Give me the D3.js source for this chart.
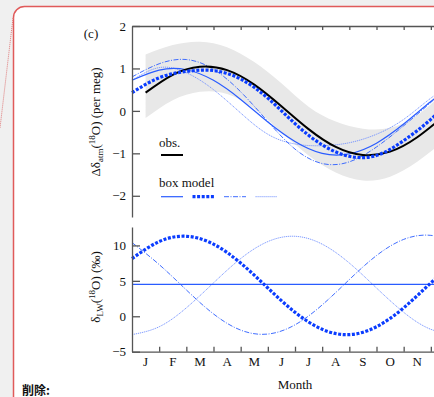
<!DOCTYPE html>
<html><head><meta charset="utf-8">
<script src="https://cdn.jsdelivr.net/npm/d3@7"></script>
<style>html,body{margin:0;padding:0;background:#f0f0f0;overflow:hidden}svg{display:block}</style>
</head><body><svg id="c" width="434" height="397"></svg>
<script>
// ---------- data ----------
const monthLabels = ["J","F","M","A","M","J","J","A","S","O","N"];
const modelMonths = [0,1,2,3,4,5,6,7,8,9,10,11,12];
const obsMonths = [0.5,1.5,2.5,3.5,4.5,5.5,6.5,7.5,8.5,9.5,10.5,11.5];
const obs       = [0.43,0.85,1.04,0.96,0.62,0.11,-0.43,-0.85,-1.04,-0.96,-0.62,-0.11];
const obsUpper  = [1.33,1.55,1.63,1.50,1.15,0.65,0.10,-0.25,-0.42,-0.40,-0.10,0.45];
const obsLower  = [-0.17,0.25,0.45,0.40,0.05,-0.50,-1.05,-1.45,-1.64,-1.55,-1.20,-0.70];
// top panel box model runs
const atmSolid   = [0.72,0.96,0.97,0.72,0.27,-0.26,-0.72,-1.00,-1.01,-0.76,-0.31,0.22,0.72];
const atmThick   = [0.43,0.78,0.93,0.95,0.75,0.30,-0.30,-0.80,-1.07,-1.05,-0.70,-0.20,0.43];
const atmDashDot = [0.80,1.11,1.21,0.98,0.45,-0.25,-0.90,-1.24,-1.20,-0.85,-0.35,0.20,0.80];
const atmThin    = [0.72,1.02,0.90,0.50,-0.05,-0.55,-0.78,-0.82,-0.75,-0.55,-0.20,0.30,0.72];
// bottom panel leaf water
const lwSolid   = [4.5,4.5,4.5,4.5,4.5,4.5,4.5,4.5,4.5,4.5,4.5,4.5,4.5];
const lwThick   = [8.14,10.54,11.29,10.18,7.51,3.99,0.56,-1.84,-2.59,-1.48,1.19,4.71,8.14];
const lwDashDot = [10.4,7.30,3.72,0.33,-1.95,-2.51,-1.21,1.60,5.18,8.57,10.85,11.42,10.4];
const lwThin    = [-2.59,-1.48,1.19,4.71,8.14,10.54,11.29,10.18,7.51,3.99,0.56,-1.84,-2.59];
const topTicks = [-2,-1,0,1,2];
const botTicks = [-5,0,5,10];

// ---------- drawing ----------
const svg = d3.select("#c");
const serif = "'Liberation Serif','Times New Roman',serif";
const blue = "#2a5cff", blueDark = "#0a3cff", blueLight = "#6f8fff";

svg.append("rect").attr("x",13.5).attr("y",6.5).attr("width",460).attr("height",410)
  .attr("rx",11).attr("fill","#fff").attr("stroke","#e05a5a").attr("stroke-width",1.5);
svg.append("line").attr("x1",13).attr("y1",18).attr("x2",0).attr("y2",128)
  .attr("stroke","#e07a7a").attr("stroke-width",1).attr("stroke-dasharray","1,1");

const x = d3.scaleLinear().domain([0,12]).range([132,458]);
const yT = d3.scaleLinear().domain([-2.5,2]).range([217,26]);
const yB = d3.scaleLinear().domain([-5,12.6]).range([351.7,227]);

const g = svg.append("g");
g.append("path").datum(obsMonths.map((m,i)=>[m,obsLower[i],obsUpper[i]]))
  .attr("fill","#e8e8e8")
  .attr("d", d3.area().x(d=>x(d[0])).y0(d=>yT(d[1])).y1(d=>yT(d[2])).curve(d3.curveNatural));

const styles = {
  solid:   {stroke:blue, w:1.2, dash:null},
  thick:   {stroke:blueDark, w:3.2, dash:"3,1.6"},
  dashdot: {stroke:blue, w:0.9, dash:"5,1.5,1,1.5"},
  thin:    {stroke:blueLight, w:0.9, dash:"1.2,0.8"}
};
function drawLine(xs, ys, yScale, st, color, width){
  g.append("path").datum(xs.map((m,i)=>[m,ys[i]]))
   .attr("fill","none").attr("stroke",color||st.stroke).attr("stroke-width",width||st.w)
   .attr("stroke-dasharray",st.dash)
   .attr("d", d3.line().x(d=>x(d[0])).y(d=>yScale(d[1])).curve(d3.curveNatural));
}
drawLine(modelMonths, atmThin, yT, styles.thin);
drawLine(modelMonths, atmDashDot, yT, styles.dashdot);
drawLine(modelMonths, atmSolid, yT, styles.solid);
drawLine(obsMonths, obs, yT, {dash:null}, "#000", 2);
drawLine(modelMonths, atmThick, yT, styles.thick);

drawLine(modelMonths, lwThin, yB, styles.thin);
drawLine(modelMonths, lwDashDot, yB, styles.dashdot);
drawLine(modelMonths, lwSolid, yB, styles.solid);
drawLine(modelMonths, lwThick, yB, styles.thick);

const axisColor = "#555";
function styleAxis(sel){
  sel.selectAll("path,line").attr("stroke",axisColor).attr("stroke-width",1.3);
  sel.selectAll("text").attr("font-family",serif).attr("font-size",13).attr("fill","#111");
}
const ayT = svg.append("g").attr("transform","translate(132,0)")
  .call(d3.axisRight(yT).tickValues(topTicks).tickSize(8).tickSizeOuter(0).tickFormat(d3.format("d")));
ayT.selectAll("text").attr("x",-6).attr("text-anchor","end");
styleAxis(ayT);
const ayB = svg.append("g").attr("transform","translate(132,0)")
  .call(d3.axisRight(yB).tickValues(botTicks).tickSize(8).tickSizeOuter(0).tickFormat(d3.format("d")));
ayB.selectAll("text").attr("x",-6).attr("text-anchor","end");
styleAxis(ayB);

const axTop = svg.append("g").attr("transform","translate(0,26)")
  .call(d3.axisBottom(x).tickValues(d3.range(1,12)).tickSize(4).tickSizeOuter(0).tickFormat(""));
styleAxis(axTop);
const axBot = svg.append("g").attr("transform","translate(0,351.7)")
  .call(d3.axisTop(x).tickValues(d3.range(1,12)).tickSize(5).tickSizeOuter(0).tickFormat(""));
styleAxis(axBot);

svg.append("g").selectAll("text").data(monthLabels).join("text")
  .attr("x",(d,i)=>x(i+0.5)).attr("y",366).attr("text-anchor","middle")
  .attr("font-family",serif).attr("font-size",13).attr("fill","#111").text(d=>d);
svg.append("text").attr("x",x(6)).attr("y",389).attr("text-anchor","middle")
  .attr("font-family",serif).attr("font-size",13).attr("fill","#111").text("Month");
svg.append("text").attr("x",91).attr("y",38).attr("text-anchor","middle")
  .attr("font-family",serif).attr("font-size",13).attr("fill","#111").text("(c)");

const lt = svg.append("text").attr("transform","translate(100,122) rotate(-90)").attr("text-anchor","middle")
  .attr("font-family",serif).attr("font-size",13).attr("fill","#111");
lt.append("tspan").text("Δδ");
lt.append("tspan").attr("font-size",9).attr("dy",3).text("atm");
lt.append("tspan").attr("dy",-3).text("(");
lt.append("tspan").attr("font-size",9).attr("dy",-5).text("18");
lt.append("tspan").attr("dy",5).text("O) (per meg)");
const lb = svg.append("text").attr("transform","translate(100,287) rotate(-90)").attr("text-anchor","middle")
  .attr("font-family",serif).attr("font-size",13).attr("fill","#111");
lb.append("tspan").text("δ");
lb.append("tspan").attr("font-size",9).attr("dy",3).text("LW");
lb.append("tspan").attr("dy",-3).text("(");
lb.append("tspan").attr("font-size",9).attr("dy",-5).text("18");
lb.append("tspan").attr("dy",5).text("O) (‰)");

svg.append("text").attr("x",159).attr("y",147).attr("font-family",serif).attr("font-size",13).attr("fill","#111").text("obs.");
svg.append("line").attr("x1",161).attr("x2",183).attr("y1",155).attr("y2",155).attr("stroke","#000").attr("stroke-width",2);
svg.append("text").attr("x",159).attr("y",187).attr("font-family",serif).attr("font-size",13).attr("fill","#111").text("box model");
const legKeys = ["solid","thick","dashdot","thin"];
svg.append("g").selectAll("line").data(legKeys).join("line")
  .attr("x1",(d,i)=>161+i*31.5).attr("x2",(d,i)=>183+i*31.5).attr("y1",196.7).attr("y2",196.7)
  .attr("stroke",d=>styles[d].stroke).attr("stroke-width",d=>styles[d].w).attr("stroke-dasharray",d=>styles[d].dash);

svg.append("text").attr("x",22).attr("y",395).attr("font-family","'Noto Sans CJK JP'").attr("font-weight","bold")
  .attr("font-size",12).attr("fill","#111").text("削除:");
</script></body></html>
